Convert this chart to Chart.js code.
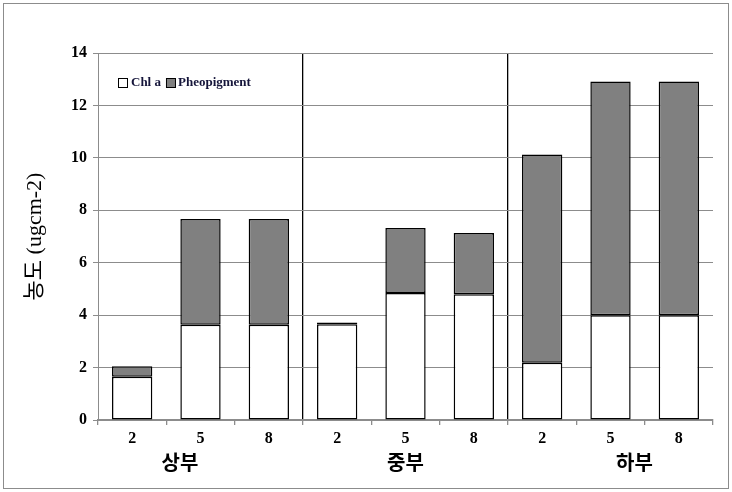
<!DOCTYPE html>
<html>
<head>
<meta charset="utf-8">
<script src="https://cdn.jsdelivr.net/npm/chart.js@4/dist/chart.umd.min.js"></script>
<style>
  body { margin: 0; background: #fff; }
  #wrap { position: relative; width: 732px; height: 492px; }
</style>
</head>
<body>
<div id="wrap"><canvas id="chart" width="732" height="492"></canvas></div>
<script>
// 데이터
const categories = ["2", "5", "8", "2", "5", "8", "2", "5", "8"];
const groups = ["상부", "중부", "하부"];
const chlA = [1.65, 3.63, 3.63, 3.65, 4.84, 4.80, 2.18, 4.00, 4.00];
const pheo = [0.40, 4.04, 4.04, 0.07, 2.48, 2.33, 7.95, 8.91, 8.91];
const yMax = 14;
const yStep = 2;

const serif = "'Liberation Serif', 'DejaVu Serif', serif";
const kr = "'Noto Sans CJK KR', sans-serif";

// 바깥 테두리 + 범례 + 구역 이름
const extras = {
    id: "extras",
    beforeDraw(chart) {
        const ctx = chart.ctx;
        ctx.save();
        ctx.fillStyle = "#fff";
        ctx.fillRect(0, 0, chart.width, chart.height);
        ctx.strokeStyle = "#8c8c8c";
        ctx.lineWidth = 1;
        ctx.strokeRect(3.5, 3.5, chart.width - 7, chart.height - 7);
        ctx.restore();
    },
    afterDraw(chart) {
        const ctx = chart.ctx;
        const area = chart.chartArea;
        const x = chart.scales.x;
        ctx.save();

        // 범례
        const lx = area.left + 20, ly = area.top + 25;
        ctx.lineWidth = 1;
        ctx.strokeStyle = "#000";
        ctx.fillStyle = "#fff";
        ctx.fillRect(lx + 0.5, ly + 0.5, 9, 9);
        ctx.strokeRect(lx + 0.5, ly + 0.5, 9, 9);
        ctx.font = "bold 13px " + serif;
        ctx.fillStyle = "#15153a";
        ctx.textBaseline = "middle";
        ctx.fillText("Chl a", lx + 13, ly + 5);
        const lx2 = lx + 13 + ctx.measureText("Chl a").width + 5;
        ctx.fillStyle = "#808080";
        ctx.fillRect(lx2 + 0.5, ly + 0.5, 9, 9);
        ctx.strokeRect(lx2 + 0.5, ly + 0.5, 9, 9);
        ctx.fillStyle = "#15153a";
        ctx.fillText("Pheopigment", lx2 + 12, ly + 5);

        // 구역 이름
        const w = x.getPixelForValue(1) - x.getPixelForValue(0);
        const shift = [-0.3, 0, 0.35];
        ctx.font = "bold 20px " + kr;
        ctx.fillStyle = "#000";
        ctx.textAlign = "center";
        groups.forEach((g, i) => {
            ctx.fillText(g, x.getPixelForValue(i * 3 + 1) + shift[i] * w, area.bottom + 42);
        });
        ctx.restore();
    }
};

const chart = new Chart(document.getElementById("chart"), {
    type: "bar",
    data: {
        labels: categories,
        datasets: [{
            label: "Chl a",
            data: chlA,
            backgroundColor: "#ffffff",
            borderColor: "#000",
            borderWidth: 1.5,
            borderSkipped: false,
        }, {
            label: "Pheopigment",
            data: pheo,
            backgroundColor: "#808080",
            borderColor: "#000",
            borderWidth: 1.5,
            borderSkipped: false,
        }]
    },
    options: {
        responsive: false,
        animation: false,
        layout: { padding: { top: 53, right: 19, left: 0, bottom: 0 } },
        plugins: {
            legend: { display: false },
            tooltip: { enabled: false }
        },
        datasets: {
            bar: { categoryPercentage: 1, barPercentage: 0.59 }
        },
        scales: {
            x: {
                stacked: true,
                afterFit(scale) { scale.height = 72; },
                grid: {
                    offset: true,
                    drawOnChartArea: true,
                    color: (c) => (c.index === 3 || c.index === 6) ? "#000" : "rgba(0,0,0,0)",
                    tickColor: "#8c8c8c",
                    tickLength: 5,
                    lineWidth: 1.3
                },
                border: { color: "#8c8c8c", width: 1.3 },
                ticks: {
                    color: "#000",
                    font: { family: serif, size: 16, weight: "bold" },
                    padding: 4
                }
            },
            y: {
                stacked: true,
                min: 0,
                max: yMax,
                afterFit(scale) { scale.width = 98; },
                grid: {
                    color: "#8c8c8c",
                    tickColor: "#8c8c8c",
                    tickLength: 5,
                    lineWidth: 1
                },
                border: { color: "#8c8c8c" },
                ticks: {
                    stepSize: yStep,
                    color: "#000",
                    font: { family: serif, size: 16, weight: "bold" },
                    padding: 6
                },
                title: {
                    display: true,
                    text: "농도 (ugcm-2)",
                    color: "#000",
                    font: { family: "'Liberation Serif', 'Noto Sans CJK KR', serif", size: 22 },
                    padding: { top: 22, bottom: 0 }
                }
            }
        }
    },
    plugins: [extras]
});
</script>
</body>
</html>
